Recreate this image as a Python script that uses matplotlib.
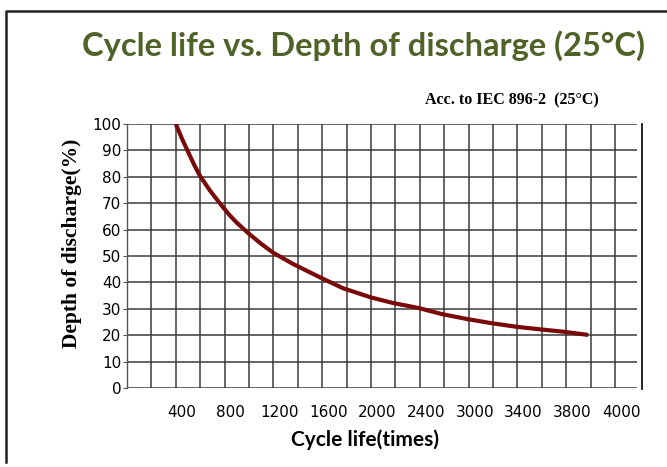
import matplotlib
matplotlib.use("Agg")
import matplotlib.pyplot as plt
import matplotlib.transforms as mtransforms
from matplotlib.lines import Line2D

# curve (x in grid units, 200 per cell)
cycles = [400, 450, 500, 550, 600, 680, 760, 840, 900, 1000, 1100, 1200,
          1360, 1600, 1770, 2000, 2180, 2390, 2580, 2790, 2980, 3190,
          3390, 3580, 3780]
dod = [100, 94.5, 89.5, 84.6, 80.2, 74.8, 70, 65.5, 62.6, 58.4, 54.6, 51.2,
       47.0, 41.5, 37.8, 34.3, 32.2, 30.3, 28.0, 26.1, 24.6, 23.2,
       22.2, 21.3, 20.1]

x_tick_pos = [400, 800, 1200, 1600, 2000, 2400, 2800, 3200, 3600, 4000]
x_tick_labels = ['400', '800', '1200', '1600', '2000', '2400', '3000', '3400', '3800', '4000']
y_ticks = [0, 10, 20, 30, 40, 50, 60, 70, 80, 90, 100]

narrow = ['Liberation Sans Narrow', 'DejaVu Sans']
grid_col = '#3a3a3a'

fig = plt.figure(figsize=(6.67, 4.67), dpi=100)
W, H = 667, 467
ax = fig.add_axes([127 / W, 1 - 388 / H, (637 - 127) / W, (388 - 124) / H])

ax.set_xlim(0, 4180)
ax.set_ylim(0, 100)

for xv in range(200, 4001, 200):
    ax.axvline(xv, color=grid_col, lw=1.1, zorder=1)
for yv in y_ticks:
    ax.axhline(yv, color=grid_col, lw=1.1, zorder=1)

ax.plot(cycles, dod, color='#7a0a0a', lw=3.0, solid_capstyle='butt',
        solid_joinstyle='round', zorder=3)

for s in ['top', 'right', 'bottom']:
    ax.spines[s].set_visible(False)
ax.spines['left'].set_color('#555555')
ax.spines['left'].set_linewidth(1.0)

ax.set_yticks(y_ticks)
ax.set_yticklabels([str(v) for v in y_ticks], family=narrow, fontsize=11)
ax.tick_params(axis='y', length=3, width=0.8, color='#555555', pad=1)

ax.set_xticks(x_tick_pos)
ax.set_xticklabels(x_tick_labels, family=narrow, fontsize=11)
ax.tick_params(axis='x', length=0, pad=12)
shift = mtransforms.ScaledTranslation(6 / 100, 0, fig.dpi_scale_trans)
for lab in ax.get_xticklabels():
    lab.set_transform(lab.get_transform() + shift)

# right-hand frame line of the chart box
fig.add_artist(Line2D([642 / W, 642 / W], [1 - 124 / H, 1 - 389 / H],
                      transform=fig.transFigure, color='black', lw=1.2))
# outer border (top and left)
fig.add_artist(Line2D([6 / W, 6 / W, 1.0], [1 - 462 / H, 1 - 11 / H, 1 - 11 / H],
                      transform=fig.transFigure, color='#222222', lw=1.8))

fig.text(364 / W, 1 - 46 / H, 'Cycle life vs. Depth of discharge (25°C)',
         ha='center', va='center', color='#4f6228', fontsize=23.5, fontweight='bold',
         family=['Liberation Sans Narrow', 'Lato', 'DejaVu Sans'])
fig.text(512 / W, 1 - 100 / H, 'Acc. to IEC 896-2  (25°C)',
         ha='center', va='center', color='black', fontsize=11.5, fontweight='bold',
         family=['Liberation Serif', 'DejaVu Serif'])
fig.text(72 / W, 1 - 243 / H, 'Depth of discharge(%)', rotation=90,
         ha='center', va='center', color='black', fontsize=15.5, fontweight='bold',
         family=['Liberation Serif', 'DejaVu Serif'])
fig.text(365 / W, 1 - 440 / H, 'Cycle life(times)',
         ha='center', va='center', color='black', fontsize=15, fontweight='bold',
         family=['Liberation Sans Narrow', 'Lato', 'DejaVu Sans'])

fig.savefig('out.png', dpi=100)
